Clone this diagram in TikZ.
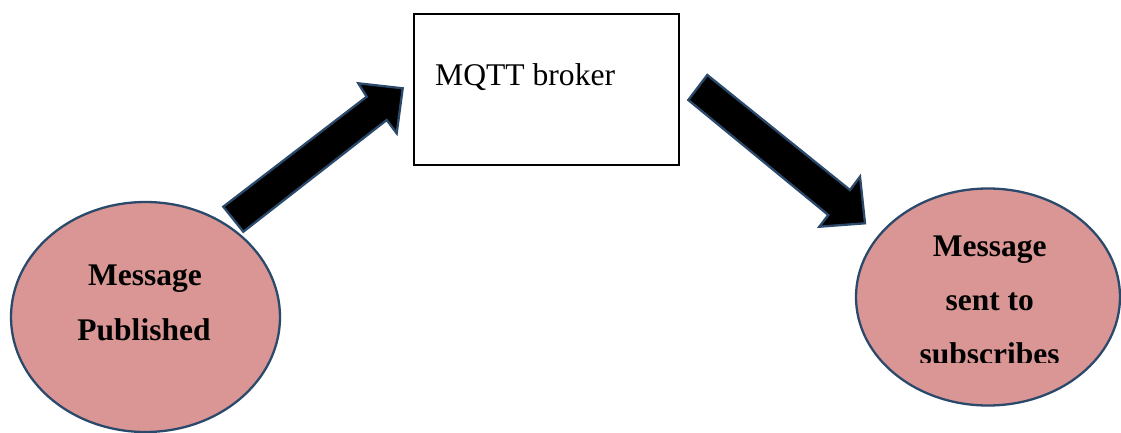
\documentclass[tikz,border=0pt]{standalone}
\usepackage{fontspec}
\setmainfont{Liberation Serif}
\usetikzlibrary{shapes.geometric}
\definecolor{bubblefill}{HTML}{D99694}
\definecolor{edgeblue}{HTML}{2B4A6B}
\tikzset{
  bubble/.style={ellipse, fill=bubblefill, draw=edgeblue, line width=2.3pt, inner sep=0pt},
  bubbletext/.style={anchor=base, inner sep=0pt, font=\bfseries\fontsize{31.5}{37}\selectfont},
  brokerbox/.style={rectangle, draw=black, line width=2pt, fill=white, inner sep=0pt},
  brokertext/.style={anchor=base west, inner sep=0pt, font=\fontsize{31.6}{37}\selectfont},
  blockarrow/.style={fill=black, draw=edgeblue, line width=2.3pt, line join=miter},
}
\begin{document}
\begin{tikzpicture}[x=1pt, y=-1pt]
  \useasboundingbox (0,0) rectangle (1121,432);
  \fill[white] (0,0) rectangle (1121,432);

  % publisher
  \node[bubble, minimum width=269pt, minimum height=230pt] (pub) at (145.5,317) {};
  \node[bubbletext] (pub1) at (145,285.7) {Message};
  \node[bubbletext] (pub2) at (144,340) {Published};

  % broker
  \node[brokerbox, minimum width=265pt, minimum height=151pt] (broker) at (546,89.5) {};
  \node[brokertext] (brokerlabel) at (435,85) {MQTT broker};

  % subscribers
  \node[bubble, minimum width=264pt, minimum height=217pt] (sub) at (988,297) {};
  \begin{scope}
    \clip (850,0) rectangle (1121,362);
    \node[bubbletext] (sub1) at (989.7,256.7) {Message};
    \node[bubbletext] (sub2) at (989.7,310) {sent to};
    \node[bubbletext] (sub3) at (989.7,364) {subscribes};
  \end{scope}

  % publish arrow
  \draw[blockarrow] (223.3,206.7) -- (366.7,96.7) -- (358.3,83.3) -- (402.7,88.3)
    -- (396.7,133.3) -- (386.7,120) -- (243.3,231.7) -- cycle;
  % deliver arrow
  \draw[blockarrow] (707.3,75) -- (850,190) -- (860,176.7) -- (865,223.3)
    -- (819.3,226.7) -- (828.3,215) -- (688.3,100) -- cycle;
\end{tikzpicture}
\end{document}
